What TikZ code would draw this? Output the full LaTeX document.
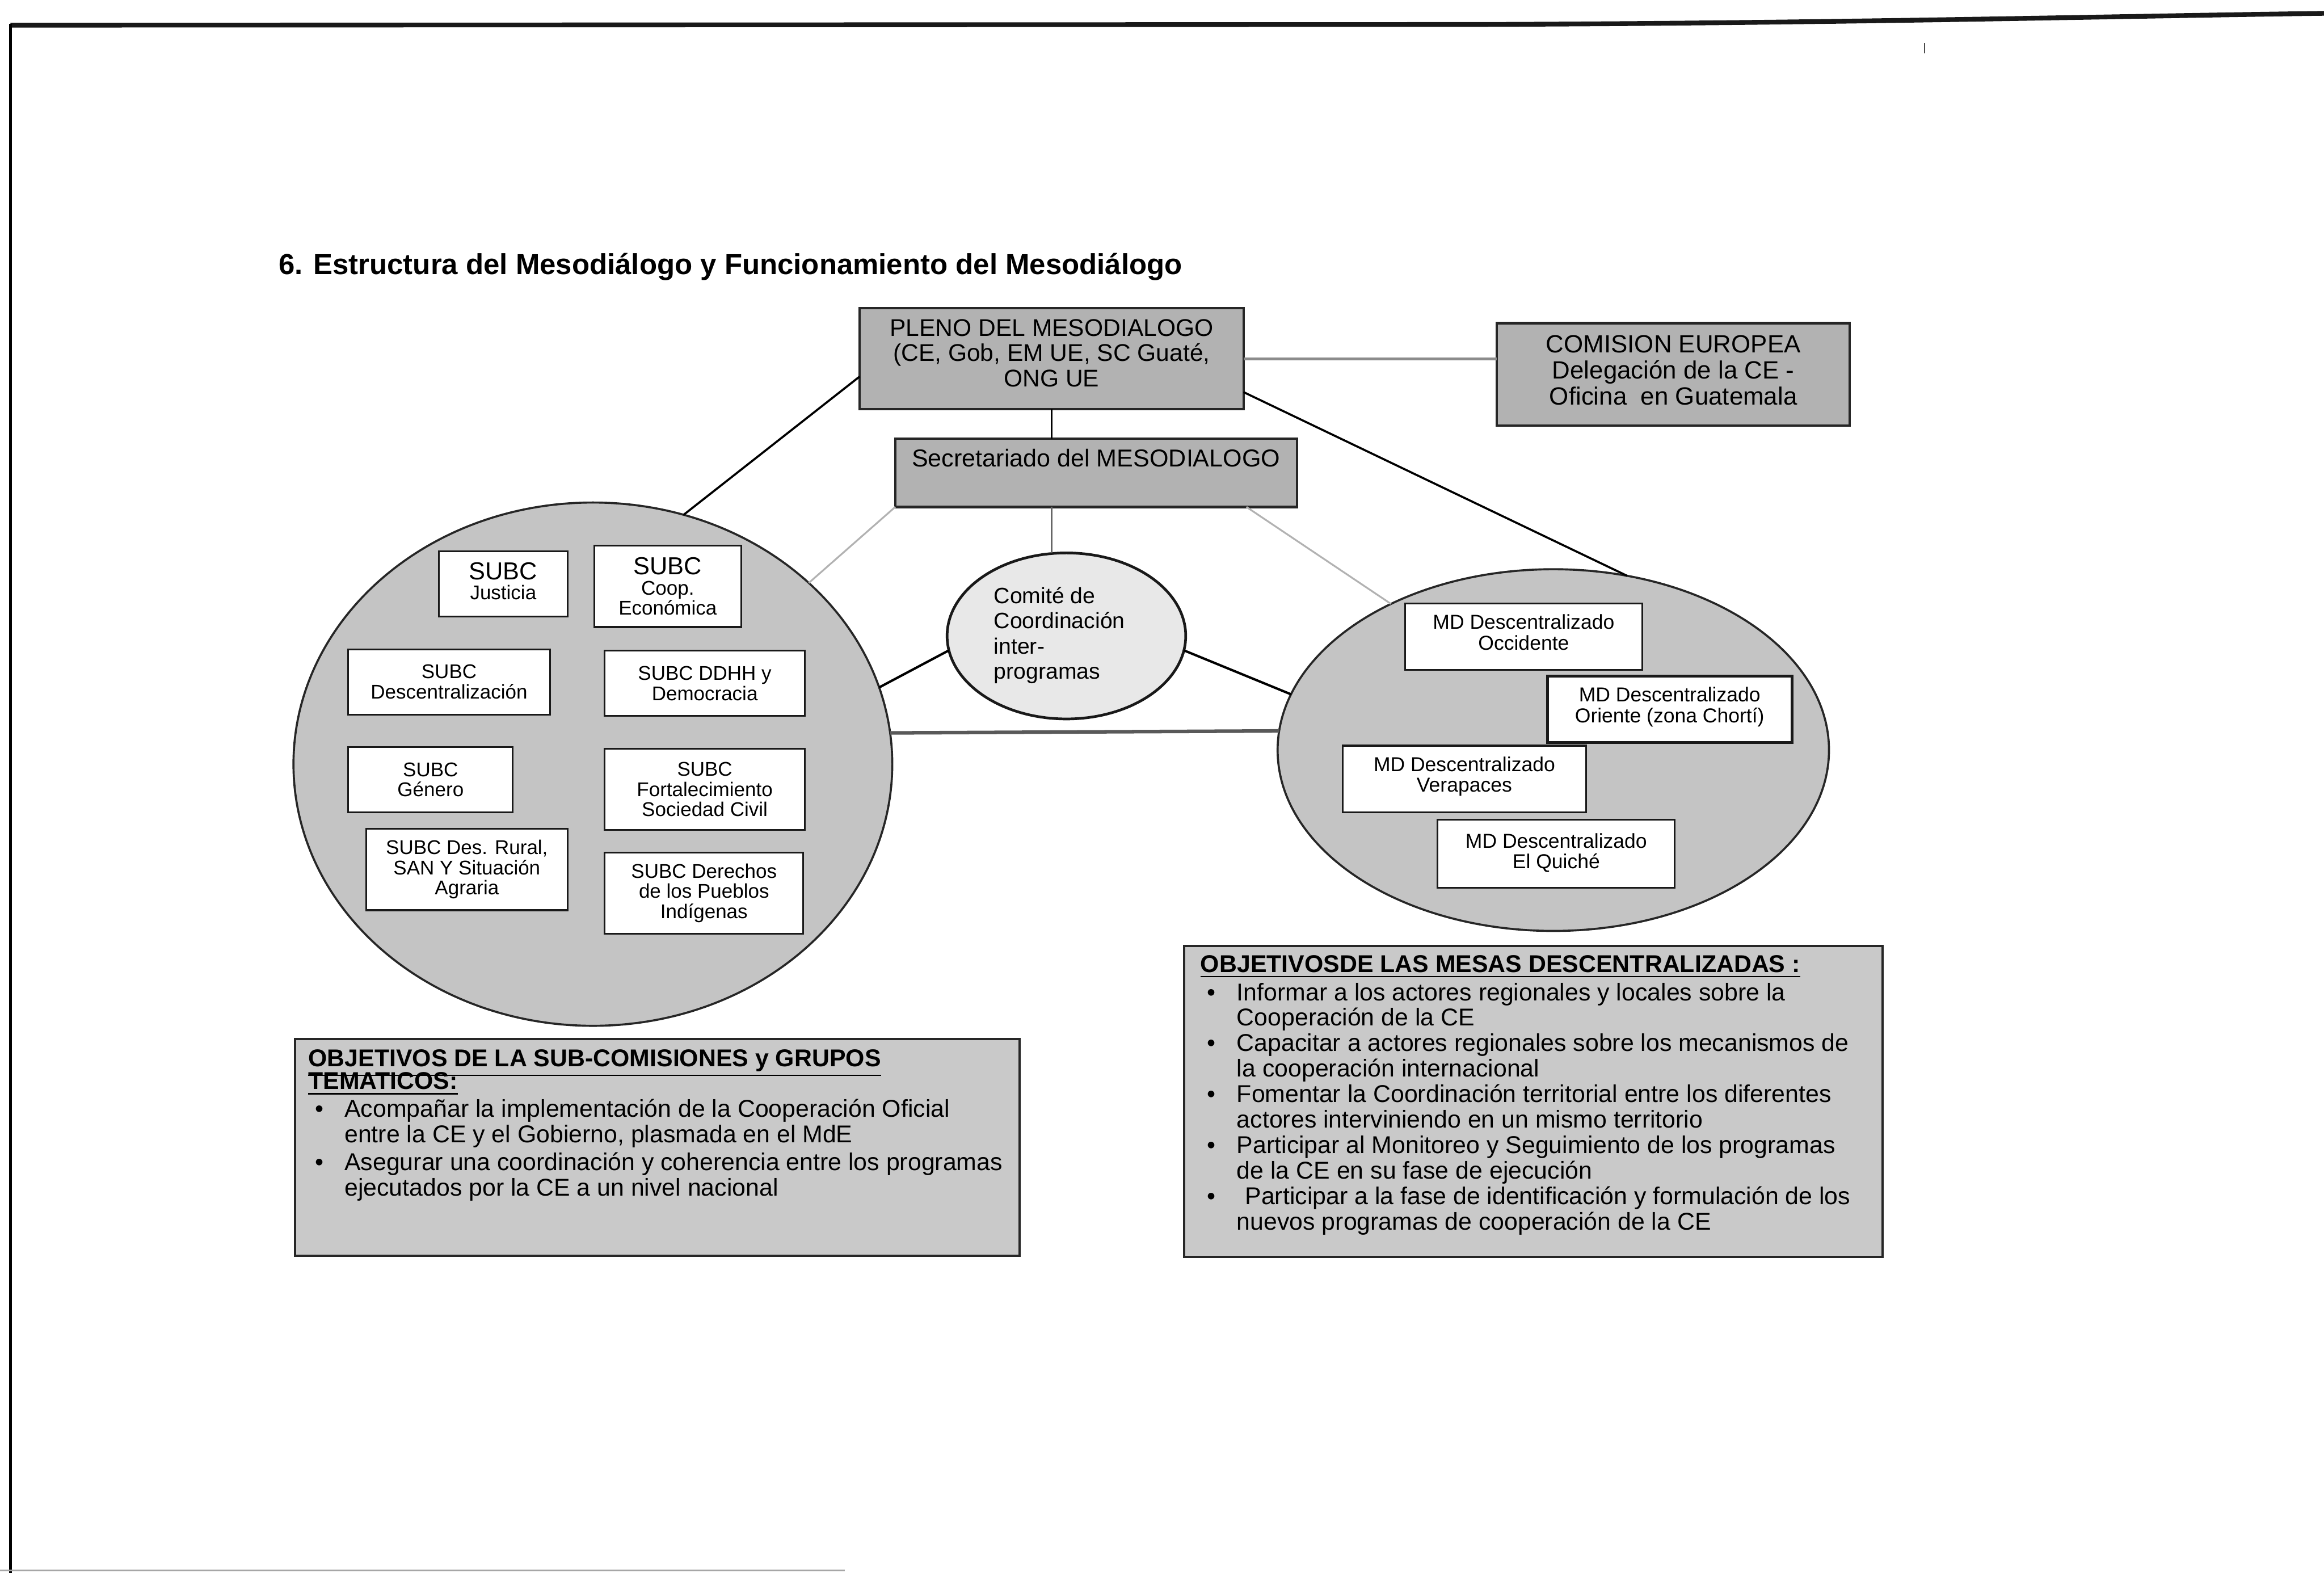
\documentclass[tikz,border=0pt]{standalone}
\usepackage{fontspec}
\setmainfont{Liberation Sans}
\usetikzlibrary{shapes.geometric,calc}
\newcommand{\myfs}[2]{\fontsize{#1}{#2}\selectfont}
\newcommand{\mybul}{\makebox[12.25pt][l]{\hspace*{2.25pt}\textbullet}}
\newcommand{\myind}{\hspace*{12.25pt}}
\newcommand{\mydp}[1]{\rule[-#1]{0pt}{0pt}}
\definecolor{boxgray}{gray}{0.70}
\definecolor{circgray}{gray}{0.77}
\definecolor{objgray}{gray}{0.79}
\definecolor{comgray}{gray}{0.91}
\begin{document}
\begin{tikzpicture}[x=0.5pt,y=-0.5pt,
  gbox/.style={draw=black!85, line width=0.8pt, fill=boxgray, inner sep=0pt, outer sep=0pt, align=center},
  wbox/.style={draw=black!90, line width=0.6pt, fill=white, inner sep=0pt, outer sep=0pt, align=center, font=\myfs{6.7}{6.8}},
  mdbox/.style={draw=black!90, line width=0.6pt, fill=white, inner sep=0pt, outer sep=0pt, align=center, font=\myfs{6.8}{6.9}},
  bigcirc/.style={ellipse, draw=black!85, line width=0.7pt, fill=circgray, inner sep=0pt, outer sep=0pt},
  objbox/.style={draw=black!85, line width=0.8pt, fill=objgray, inner sep=0pt, outer sep=0pt},
  txt/.style={inner sep=0pt, outer sep=0pt},
  darkline/.style={draw=black, line width=0.7pt},
  lightline/.style={draw=black!30, line width=0.6pt},
]
\useasboundingbox (0,0) rectangle (1568,1061);
% page frame
\draw[line width=1.6pt, black!90] (7,17) -- (1000,16.5) .. controls (1250,15.5) and (1420,11) .. (1568,9);
\draw[line width=0.9pt] (7,16) -- (7,1061);
\draw[black!35, line width=0.6pt] (0,1059.5) -- (570,1059.5);
\draw[black!70, line width=0.5pt] (1298.5,29) -- (1298.5,36);

% title
\node[txt, anchor=base west, font=\bfseries\myfs{9.75}{11}] (title) at (188,185) {6. Estructura del Mesodiálogo y Funcionamiento del Mesodiálogo};

% top boxes
\node[gbox, minimum width=129.5pt, minimum height=34pt, font=\myfs{8.15}{8.5}] (P) at (709.5,242) {PLENO DEL MESODIALOGO\\(CE, Gob, EM UE, SC Guaté,\\ONG UE\mydp{4pt}};
\node[gbox, minimum width=119pt, minimum height=34.5pt, font=\myfs{8.4}{8.8}] (CE) at (1129,252.5) {COMISION EUROPEA\\Delegación de la CE -\\Oficina\ \ en Guatemala\mydp{3pt}};
\node[gbox, minimum width=135.5pt, minimum height=23pt] (S) at (739.5,319) {};
\node[txt, anchor=base, font=\myfs{8.25}{8.5}] (St) at (739.5,315) {Secretariado del MESODIALOGO};

% big circles
\node[bigcirc, minimum width=202pt, minimum height=176.5pt] (L) at (400,515.5) {};
\node[bigcirc, minimum width=186pt, minimum height=122pt] (R) at (1048,506) {};
\node[ellipse, draw=black!90, line width=0.9pt, fill=comgray, minimum width=80.5pt, minimum height=56pt, inner sep=0pt, outer sep=0pt] (C) at (719.5,429) {};
\node[txt, align=left, anchor=base west, font=\myfs{7.5}{8.5}] (Ct) at (670.6,458) {Comité de\\Coordinación\\inter-\\programas};

% connectors
\draw[black!45, line width=1pt] (P.east) -- (P.east -| CE.west);
\draw[black, line width=0.5pt] (P.south) -- (P.south |- S.north);
\draw[black!60, line width=0.5pt] (S.south -| P.south) -- (C.north -| P.south);
\draw[darkline] ([yshift=-6pt]P.west) -- (L.70);
\draw[darkline] ([yshift=-11.25pt]P.east) -- (R.67.5);
\draw[lightline] (S.south west) -- (L.40.4);
\draw[lightline] ([xshift=-17pt]S.south east) -- (R.138.4);
\draw[black, line width=0.8pt] (C.187.4) -- (L.15.5);
\draw[black, line width=0.8pt] (C.-7.8) -- (R.168.9);
\draw[black!65, line width=1.2pt] (L.6.1) -- (R.176.3);

% SUBC boxes
\node[wbox, minimum width=43.5pt, minimum height=22pt] (s1) at (339.5,394) {{\myfs{8.3}{8.3}SUBC}\\Justicia\mydp{2pt}};
\node[wbox, minimum width=49.5pt, minimum height=27.5pt] (s2) at (450.5,395.5) {{\myfs{8.3}{8.3}SUBC}\\Coop.\\Económica};
\node[wbox, minimum width=68pt, minimum height=22pt] (s3) at (303,460) {SUBC\\Descentralización};
\node[wbox, minimum width=67.5pt, minimum height=22pt] (s4) at (475.5,461) {SUBC DDHH y\\Democracia};
\node[wbox, minimum width=55.5pt, minimum height=22pt] (s5) at (290.5,526) {SUBC\\Género};
\node[wbox, minimum width=67.5pt, minimum height=27.5pt] (s6) at (475.5,532.5) {SUBC\\Fortalecimiento\\Sociedad Civil};
\node[wbox, minimum width=68pt, minimum height=27.5pt] (s7) at (315,586.5) {SUBC Des. Rural,\\SAN Y Situación\\Agraria};
\node[wbox, minimum width=67pt, minimum height=27.5pt] (s8) at (475,602.5) {SUBC Derechos\\de los Pueblos\\Indígenas};

% MD boxes
\node[mdbox, minimum width=80pt, minimum height=22.5pt] (m1) at (1028,429.5) {MD Descentralizado\\Occidente\mydp{3pt}};
\node[mdbox, line width=1pt, minimum width=82.5pt, minimum height=22.5pt] (m2) at (1126.5,478.5) {MD Descentralizado\\Oriente (zona Chortí)\mydp{3pt}};
\node[mdbox, minimum width=82pt, minimum height=22.5pt] (m3) at (988,525.5) {MD Descentralizado\\Verapaces\mydp{3pt}};
\node[mdbox, minimum width=80pt, minimum height=23pt] (m4) at (1050,576) {MD Descentralizado\\El Quiché\mydp{2pt}};

% objectives
\node[objbox, minimum width=244.5pt, minimum height=73pt] (OL) at (443.5,774) {};
\node[txt, anchor=base west, align=left, font=\myfs{8.2}{8.5}] (OLt) at (208,806.7) {{\bfseries\myfs{8.2}{8.5}\smash{\underline{OBJETIVOS DE LA SUB-COMISIONES y GRUPOS}}}\\[-0.7pt]
{\bfseries\myfs{8.2}{8.5}\smash{\underline{TEMATICOS:}}}\\[0.9pt]
\mybul Acompañar la implementación de la Cooperación Oficial\\
\myind entre la CE y el Gobierno, plasmada en el MdE\\[1pt]
\mybul Asegurar una coordinación y coherencia entre los programas\\
\myind ejecutados por la CE a un nivel nacional};

\node[objbox, minimum width=235.5pt, minimum height=105pt] (OR) at (1034.5,743) {};
\node[txt, anchor=base west, align=left, font=\myfs{8.2}{8.6}] (ORt) at (810,829.7) {{\bfseries\myfs{8.2}{8.6}\smash{\underline{OBJETIVOSDE LAS MESAS DESCENTRALIZADAS :}}}\\[0.9pt]
\mybul Informar a los actores regionales y locales sobre la\\
\myind Cooperación de la CE\\
\mybul Capacitar a actores regionales sobre los mecanismos de\\
\myind la cooperación internacional\\
\mybul Fomentar la Coordinación territorial entre los diferentes\\
\myind actores interviniendo en un mismo territorio\\
\mybul Participar al Monitoreo y Seguimiento de los programas\\
\myind de la CE en su fase de ejecución\\
\mybul\hspace*{2.8pt}Participar a la fase de identificación y formulación de los\\
\myind nuevos programas de cooperación de la CE};
\end{tikzpicture}
\end{document}
